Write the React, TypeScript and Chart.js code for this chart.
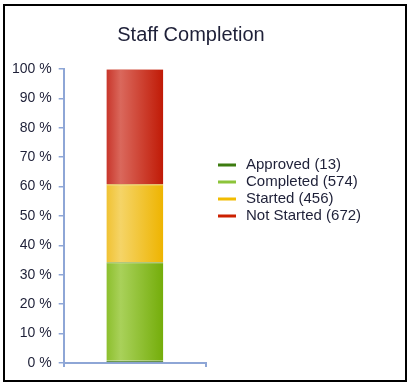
import React, { useEffect, useRef } from "react";
import { Chart, registerables } from "chart.js";

Chart.register(...registerables);

const chartTitle = "Staff Completion";
const seriesNames = ["Approved", "Completed", "Started", "Not Started"];
const seriesCounts = [13, 574, 456, 672];
const legendColors = ["#3d7c10", "#8cc43a", "#f2bc00", "#cc2000"];
const gradLeft = ["#3d7c10", "#8cbf2c", "#f0c232", "#c8352a"];
const gradHighlight = ["#4f8f1e", "#a9d15a", "#f5d467", "#da685c"];
const gradRight = ["#357010", "#74ad0a", "#eeb400", "#c01a06"];
const borderColors = ["#2d6008", "#7a9e22", "#d49c10", "#e8a8a0"];
const yTicks = [0, 10, 20, 30, 40, 50, 60, 70, 80, 90, 100];
const categories = [""];

const FONT = "Arial, 'Liberation Sans', sans-serif";
const TEXT_COLOR = "#1e2038";

const sideText = {
  id: "sideText",
  afterDraw(chart: any, _args: any, opts: any) {
    const ctx = chart.ctx;
    ctx.save();
    ctx.font = `20px ${FONT}`;
    ctx.textBaseline = "middle";
    ctx.textAlign = "center";
    ctx.fillStyle = TEXT_COLOR;
    ctx.fillText(chartTitle, opts.titleX, opts.titleY);
    ctx.font = `15px ${FONT}`;
    ctx.textAlign = "left";
    seriesNames.forEach((name, i) => {
      const y = opts.top + i * opts.rowGap;
      ctx.fillStyle = legendColors[i];
      ctx.fillRect(opts.left, y - opts.lineWidth / 2, opts.lineLength, opts.lineWidth);
      ctx.fillStyle = TEXT_COLOR;
      ctx.fillText(`${name} (${seriesCounts[i]})`, opts.left + opts.lineLength + opts.gap, y);
    });
    ctx.restore();
  },
};

export default function App() {
  const ref = useRef<HTMLCanvasElement | null>(null);

  useEffect(() => {
    if (!ref.current) return;
    const total = seriesCounts.reduce((a, b) => a + b, 0);
    const chart = new Chart(ref.current, {
      type: "bar",
      plugins: [sideText],
      data: {
        labels: categories,
        datasets: seriesNames.map((name, i) => ({
          label: `${name} (${seriesCounts[i]})`,
          data: [(seriesCounts[i] / total) * 100],
          backgroundColor: (ctx: any) => {
            const area = ctx.chart.chartArea;
            if (!area) return legendColors[i];
            const g = ctx.chart.ctx.createLinearGradient(area.left, 0, area.right, 0);
            g.addColorStop(0, gradLeft[i]);
            g.addColorStop(0.3, gradLeft[i]);
            g.addColorStop(0.4, gradHighlight[i]);
            g.addColorStop(0.7, gradRight[i]);
            g.addColorStop(1, gradRight[i]);
            return g;
          },
          borderColor: borderColors[i],
          borderWidth: { top: 1, left: 0, right: 0, bottom: 0 },
          borderSkipped: false,
          barPercentage: 0.5,
          categoryPercentage: 0.8,
          stack: "s",
        })),
      },
      options: {
        responsive: false,
        animation: false,
        layout: { padding: { left: 5, top: 69, bottom: 20, right: 205 } },
        plugins: {
          title: { display: false },
          legend: { display: false },
          tooltip: { enabled: false },
          sideText: {
            titleX: 191,
            titleY: 35,
            left: 218,
            top: 165,
            rowGap: 17,
            lineLength: 18,
            lineWidth: 3,
            gap: 10,
          },
        } as any,
        scales: {
          x: {
            stacked: true,
            border: { color: "#8ea6d6", width: 2 },
            grid: {
              drawOnChartArea: false,
              drawTicks: true,
              tickLength: 4,
              color: "#8ea6d6",
              lineWidth: 2,
            },
            ticks: { display: false },
          },
          y: {
            stacked: true,
            min: 0,
            max: 100,
            afterBuildTicks: (axis: any) => {
              axis.ticks = yTicks.map((v) => ({ value: v }));
            },
            border: { color: "#8ea6d6", width: 2 },
            grid: {
              drawOnChartArea: false,
              drawTicks: true,
              tickLength: 5,
              color: "#8ea6d6",
              lineWidth: 1.5,
            },
            ticks: {
              color: TEXT_COLOR,
              padding: 7,
              font: { family: FONT, size: 14 },
              callback: (v: any) => `${v} %`,
            },
          },
        },
      },
    });
    return () => chart.destroy();
  }, []);

  return (
    <div style={{ position: "absolute", left: 0, top: 0, width: 411, height: 387, background: "#fff" }}>
      <canvas ref={ref} width={411} height={387} style={{ position: "absolute", left: 0, top: 0 }} />
      <div
        style={{
          position: "absolute",
          left: 3,
          top: 4,
          width: 404,
          height: 378,
          border: "2px solid #000",
          boxSizing: "border-box",
          pointerEvents: "none",
        }}
      />
    </div>
  );
}
